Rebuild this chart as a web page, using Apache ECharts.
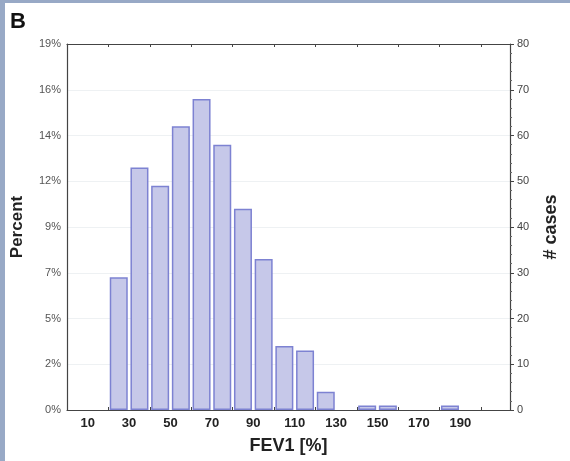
<!DOCTYPE html>
<html>
<head>
<meta charset="utf-8">
<script src="https://cdn.jsdelivr.net/npm/echarts@6/dist/echarts.min.js"></script>
<style>
html,body{margin:0;padding:0;background:#98a9c6;}
#c{width:570px;height:461px;}
</style>
</head>
<body>
<div id="c"></div>
<script>
// Bin centers of FEV1 [%] (10-unit bins) and number of cases per bin
const binCenters = [25, 35, 45, 55, 65, 75, 85, 95, 105, 115, 125, 145, 155, 185];
const caseCounts = [29, 53, 49, 62, 68, 58, 44, 33, 14, 13, 4, 1, 1, 1];
// Tick labels
const xLabelValues = [10, 30, 50, 70, 90, 110, 130, 150, 170, 190];
const xTickValues = [20, 40, 60, 80, 100, 120, 140, 160, 180, 200];
const percentLabels = ['0%', '2%', '5%', '7%', '9%', '12%', '14%', '16%', '19%'];

const font = 'Liberation Sans, Arial, Helvetica, sans-serif';
const chart = echarts.init(document.getElementById('c'), null, {renderer: 'canvas'});

chart.setOption({
  backgroundColor: '#98a9c6',
  animation: false,
  graphic: [
    {type: 'rect', shape: {x: 5, y: 3, width: 570, height: 470}, style: {fill: '#ffffff'}, z: -10},
    {type: 'text', left: 10, top: 11, style: {text: 'B', font: 'bold 22px ' + font, fill: '#111'}}
  ],
  grid: {left: 67, right: 60, top: 44, bottom: 51},
  xAxis: [
    {
      type: 'value', min: 0, max: 214, position: 'bottom',
      name: 'FEV1 [%]', nameLocation: 'middle', nameGap: 27,
      nameTextStyle: {fontFamily: font, fontWeight: 'bold', fontSize: 18, color: '#222'},
      axisLine: {show: true, onZero: false, lineStyle: {color: '#444', width: 1.2}},
      axisTick: {show: true, inside: true, length: 3, customValues: xTickValues, lineStyle: {color: '#444'}},
      axisLabel: {customValues: xLabelValues, fontFamily: font, fontWeight: 'bold', fontSize: 13, color: '#222', margin: 7},
      splitLine: {show: false}
    },
    {
      type: 'value', min: 0, max: 214, position: 'top',
      axisLine: {show: true, onZero: false, lineStyle: {color: '#444', width: 1.2}},
      axisTick: {show: true, inside: true, length: 3, customValues: xTickValues, lineStyle: {color: '#444'}},
      axisLabel: {show: false},
      splitLine: {show: false}
    }
  ],
  yAxis: [
    {
      type: 'value', min: 0, max: 80, interval: 10, position: 'left',
      name: 'Percent', nameLocation: 'middle', nameGap: 41, nameRotate: 90,
      nameTextStyle: {fontFamily: font, fontWeight: 'bold', fontSize: 17, color: '#222'},
      axisLine: {show: true, onZero: false, lineStyle: {color: '#444', width: 1.2}},
      axisTick: {show: false},
      axisLabel: {fontFamily: font, fontSize: 11, color: '#555', margin: 6,
        formatter: v => percentLabels[Math.round(v / 10)]},
      splitLine: {show: true, lineStyle: {color: '#eef1f3', width: 1}}
    },
    {
      type: 'value', min: 0, max: 80, interval: 10, position: 'right',
      name: '# cases', nameLocation: 'middle', nameGap: 32, nameRotate: 90,
      nameTextStyle: {fontFamily: font, fontWeight: 'bold', fontSize: 18, color: '#222'},
      axisLine: {show: true, onZero: false, lineStyle: {color: '#444', width: 1.2}},
      axisTick: {show: true, length: 4, lineStyle: {color: '#444'}},
      minorTick: {show: true, splitNumber: 5, length: 2, lineStyle: {color: '#666'}},
      axisLabel: {fontFamily: font, fontSize: 11, color: '#444', margin: 7},
      splitLine: {show: false}
    }
  ],
  series: [{
    type: 'bar',
    xAxisIndex: 0, yAxisIndex: 1,
    data: binCenters.map((c, i) => [c, caseCounts[i]]),
    barWidth: 18,
    itemStyle: {color: '#c6c8e9', borderColor: '#7d82d2', borderWidth: 1.5}
  }]
});
</script>
</body>
</html>
